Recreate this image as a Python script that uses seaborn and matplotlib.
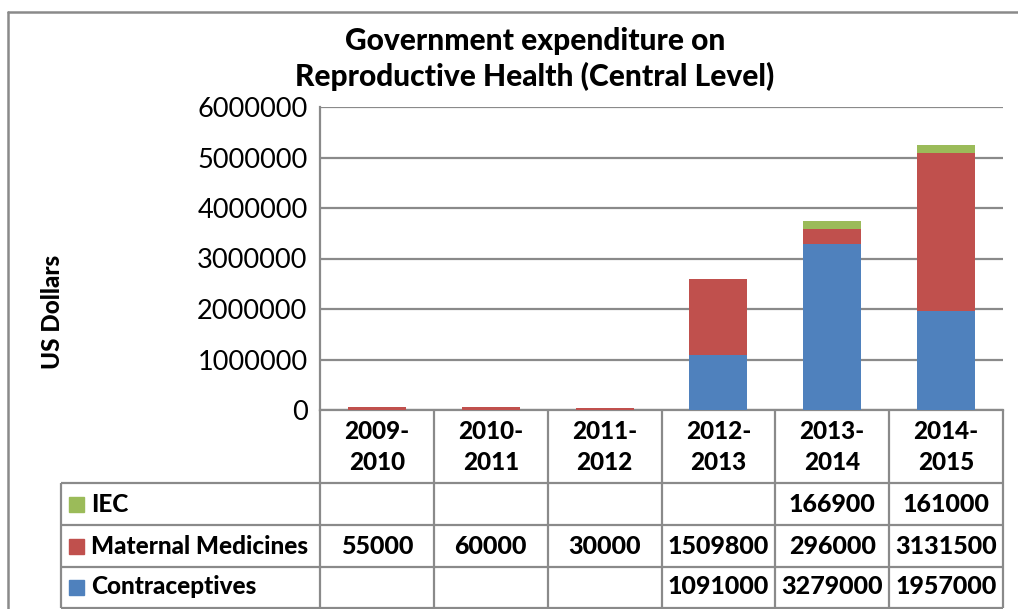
import numpy as np
import pandas as pd
import matplotlib
matplotlib.use("Agg")
import matplotlib.pyplot as plt
from matplotlib.lines import Line2D
from matplotlib.patches import Rectangle
import seaborn as sns

# ---- data -------------------------------------------------------------
years = ["2009-\n2010", "2010-\n2011", "2011-\n2012",
         "2012-\n2013", "2013-\n2014", "2014-\n2015"]
series_names = ["IEC", "Maternal Medicines", "Contraceptives"]
iec = [None, None, None, None, 166900, 161000]
maternal = [55000, 60000, 30000, 1509800, 296000, 3131500]
contraceptives = [None, None, None, 1091000, 3279000, 1957000]
y_ticks = [0, 1000000, 2000000, 3000000, 4000000, 5000000, 6000000]

title = "Government expenditure on\nReproductive Health (Central Level)"
y_label = "US Dollars"

colors = {"IEC": "#9BBB59", "Maternal Medicines": "#C0504D",
          "Contraceptives": "#4F81BD"}
grid_col = "#8a8a8a"
BOLD = 900

df = pd.DataFrame({"year": years, "IEC": iec,
                   "Maternal Medicines": maternal,
                   "Contraceptives": contraceptives})
vals = df[series_names].astype(float).fillna(0)

# ---- figure layout (pixel helpers) -------------------------------------
W, H = 1018, 609
sns.set_theme(style="white")
plt.rcParams["font.family"] = ["Lato", "DejaVu Sans"]

fig = plt.figure(figsize=(W / 100, H / 100), dpi=100)


def fx(px):
    return px / W


def fy(py):
    return 1 - py / H


ax = fig.add_axes([fx(320), fy(410), fx(1003) - fx(320), fy(107) - fy(410)])

# stacked bars: draw cumulative heights from the top layer down
stack_order = ["Contraceptives", "Maternal Medicines", "IEC"]
cum = vals[stack_order].cumsum(axis=1)
for name in reversed(stack_order):
    sns.barplot(x=df["year"], y=cum[name], color=colors[name], width=0.51,
                saturation=1, linewidth=0, ax=ax, zorder=3)

ax.set_xlim(-0.5, 5.5)
ax.set_ylim(0, 6000000)
ax.set_yticks(y_ticks)
ax.set_yticklabels([str(v) for v in y_ticks])
ax.tick_params(axis="y", length=0, pad=9, labelsize=19.5, colors="black")
ax.set_xticks([])
ax.set_xlabel("")
ax.set_ylabel("")
ax.grid(axis="y", color=grid_col, linewidth=1.6, zorder=0)
ax.set_axisbelow(True)
for s in ["top", "right"]:
    ax.spines[s].set_visible(False)
for s in ["left", "bottom"]:
    ax.spines[s].set_color(grid_col)
    ax.spines[s].set_linewidth(1.6)

# ---- data table beneath the bars ------------------------------------------
tax = fig.add_axes([fx(61), fy(608), fx(1003) - fx(61), fy(410) - fy(608)])
left = -0.5 - (320 - 61) * 6 / (1003 - 320)
tax.set_xlim(left, 5.5)
tax.set_ylim(198, 0)
tax.axis("off")

row_bounds = [73, 115, 157, 198]
lk = dict(color=grid_col, linewidth=1.6, clip_on=False, solid_capstyle="butt")
for yb in row_bounds:
    tax.plot([left, 5.5], [yb, yb], **lk)
for xb in np.arange(-0.5, 6.0, 1.0):
    tax.plot([xb, xb], [0, 198], **lk)
tax.plot([left, left], [73, 198], **lk)

hfont = dict(fontsize=17.5, fontweight=BOLD, color="black",
             ha="center", va="center")
for i, yr in enumerate(years):
    tax.text(i, 37, yr, linespacing=1.4, **hfont)

vfont = dict(fontsize=18, fontweight=BOLD, color="black",
             ha="center", va="center")
row_centers = [94, 136, 177]
for name, yc in zip(series_names, row_centers):
    tax.add_patch(Rectangle((left + 8 * 6 / 683, yc - 7.5), 15 * 6 / 683, 15,
                            color=colors[name], clip_on=False))
    tax.text(left + 30 * 6 / 683, yc, name, fontsize=17.5, fontweight=BOLD,
             ha="left", va="center", color="black")
    for i, v in enumerate(df[name]):
        if v is not None and not pd.isna(v):
            tax.text(i, yc, f"{int(v)}", **vfont)

# ---- titles and frame ------------------------------------------------------
fig.text(fx(535), fy(59), title, ha="center", va="center", fontsize=21.5,
         fontweight=BOLD, linespacing=1.3, color="black")
fig.text(fx(53), fy(312), y_label, ha="center", va="center", rotation=90,
         fontsize=17.5, fontweight=BOLD, color="black")

fig.add_artist(Line2D([fx(7.5), fx(7.5)], [fy(11.5), 0], color=grid_col,
                      linewidth=1.8, transform=fig.transFigure))
fig.add_artist(Line2D([fx(7.5), 1], [fy(11.5), fy(11.5)], color=grid_col,
                      linewidth=1.8, transform=fig.transFigure))

fig.savefig("out.png", dpi=100)
